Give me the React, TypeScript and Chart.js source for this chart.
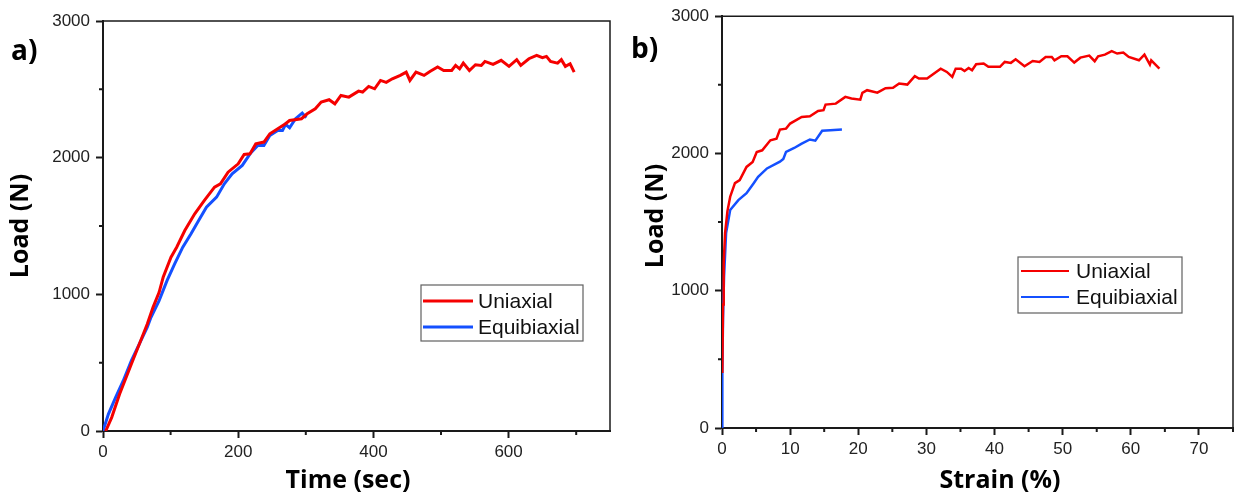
import React, { useEffect, useRef } from "react";
import { Chart, registerables } from "chart.js";

Chart.register(...registerables);

// ---- Panel a) Load vs Time ----
const uniTime = [4, 12.9, 24.6, 42, 53.8, 65.5, 74, 83, 89, 100.6, 109, 121, 135.7, 150, 165, 173.7, 185, 200, 208.8, 217.5, 226, 238, 246.8, 258.5, 270, 276, 293.6, 302, 314, 322.8, 334.5, 343, 352, 363.7, 378, 384, 393, 401.8, 410.5, 419, 428, 439.8, 448.5, 454, 463, 474.9, 483.6, 495, 504, 515.8, 521.6, 527.5, 533, 542, 551, 559.6, 565, 577, 589, 600.6, 612, 618, 630, 641.5, 650, 656, 662, 672.5, 678, 684, 691, 697];
const uniLoadA = [0, 100, 271, 490, 637, 783, 905, 1015, 1125, 1272, 1345, 1467, 1589, 1687, 1784, 1809, 1894, 1955, 2023, 2028, 2101, 2114, 2175, 2211, 2248, 2272, 2285, 2321, 2358, 2407, 2424, 2394, 2455, 2443, 2487, 2480, 2521, 2504, 2565, 2551, 2577, 2602, 2626, 2565, 2626, 2602, 2631, 2663, 2638, 2638, 2675, 2650, 2692, 2638, 2680, 2675, 2704, 2682, 2712, 2668, 2717, 2675, 2724, 2748, 2731, 2741, 2704, 2692, 2717, 2668, 2687, 2626];
const equiTime = [0, 8, 18.7, 30, 42, 53.8, 65.5, 71, 83, 94.7, 106, 118, 130, 141.5, 153, 168, 179.5, 191, 206, 217.5, 229, 238, 246.8, 258.5, 265.5, 270, 276, 284.8, 294.7, 300.6];
const equiLoadA = [0, 124, 246, 368, 515, 637, 759, 832, 954, 1100, 1223, 1345, 1442, 1540, 1638, 1711, 1809, 1882, 1943, 2028, 2089, 2089, 2163, 2199, 2199, 2243, 2219, 2285, 2326, 2292];

// ---- Panel b) Load vs Strain ----
const uniStrain = [0.05, 0.15, 0.25, 0.45, 0.8, 1.2, 1.9, 2.6, 3.6, 4.5, 5.1, 5.9, 7.1, 8.0, 8.5, 9.4, 10.0, 11.7, 12.9, 14.1, 14.9, 15.2, 16.7, 18.1, 19.0, 20.3, 20.6, 21.3, 22.8, 24.0, 25.1, 26.0, 27.2, 28.3, 28.9, 30.1, 32.1, 33.0, 33.8, 34.3, 35.1, 35.6, 36.2, 36.7, 37.3, 38.4, 39.1, 40.8, 41.5, 42.4, 43.1, 44.4, 45.6, 46.6, 47.5, 48.4, 48.8, 49.8, 50.7, 51.7, 52.6, 53.9, 54.7, 55.2, 56.2, 57.2, 58.0, 58.9, 59.7, 61.2, 62.0, 62.8, 63.0, 64.2];
const uniLoadB = [400, 900, 1200, 1420, 1580, 1685, 1784, 1806, 1902, 1938, 2011, 2023, 2096, 2108, 2174, 2181, 2218, 2266, 2271, 2310, 2315, 2356, 2363, 2412, 2400, 2392, 2441, 2461, 2443, 2475, 2478, 2509, 2502, 2563, 2546, 2546, 2618, 2594, 2558, 2618, 2618, 2601, 2623, 2606, 2650, 2655, 2631, 2631, 2667, 2660, 2686, 2635, 2674, 2667, 2703, 2703, 2679, 2708, 2708, 2662, 2698, 2713, 2672, 2708, 2720, 2745, 2728, 2735, 2703, 2679, 2720, 2647, 2679, 2618];
const equiStrain = [0, 0.05, 0.15, 0.3, 0.6, 1.2, 2.4, 3.6, 4.6, 5.3, 6.6, 8.5, 9.0, 9.4, 10.6, 11.7, 12.9, 13.7, 14.7, 15.9, 17.6];
const equiLoadB = [0, 400, 800, 1100, 1420, 1588, 1660, 1711, 1780, 1830, 1891, 1940, 1960, 2012, 2040, 2072, 2102, 2093, 2165, 2170, 2175];

// ---- Ticks ----
const loadTicks = [0, 1000, 2000, 3000];
const loadMinor = [500, 1500, 2500];
const timeTicks = [0, 200, 400, 600];
const timeMinor = [100, 300, 500, 700];
const strainTicks = [0, 10, 20, 30, 40, 50, 60, 70];
const strainMinor = [5, 15, 25, 35, 45, 55, 65, 75];

const seriesNames = ["Uniaxial", "Equibiaxial"];
const RED = "#f50000";
const BLUE = "#1450ff";
const AXIS = "#1a1a1a";
const TICK_FONT = "'Liberation Sans', Arial, sans-serif";
const BOLD_FONT = "'Open Sans', 'DejaVu Sans', sans-serif";

function zip(xs: number[], ys: number[]) {
  return xs.map((x, i) => ({ x, y: ys[i] }));
}

type PanelCfg = {
  letter: string;
  xTitle: string;
  xTitlePos: [number, number];
  yTitlePos: [number, number];
  letterPos: [number, number];
  xMinor: number[];
  yMinor: number[];
  legend: { box: [number, number, number, number]; lineX: [number, number]; rows: number[]; textX: number; lw: number };
};

function makeDecor(cfg: PanelCfg) {
  return {
    id: "decor" + cfg.letter,
    afterDraw(chart: any) {
      const ctx = chart.ctx as CanvasRenderingContext2D;
      const a = chart.chartArea;
      const xs = chart.scales.x;
      const ys = chart.scales.y;
      ctx.save();
      // top & right frame
      ctx.strokeStyle = AXIS;
      ctx.lineWidth = 1.5;
      ctx.beginPath();
      ctx.moveTo(a.left, a.top);
      ctx.lineTo(a.right, a.top);
      ctx.lineTo(a.right, a.bottom);
      ctx.stroke();
      // minor ticks
      ctx.lineWidth = 2;
      ctx.beginPath();
      cfg.xMinor.forEach((v) => {
        const p = xs.getPixelForValue(v);
        ctx.moveTo(p, a.bottom);
        ctx.lineTo(p, a.bottom + 4);
      });
      cfg.yMinor.forEach((v) => {
        const p = ys.getPixelForValue(v);
        ctx.moveTo(a.left, p);
        ctx.lineTo(a.left - 4, p);
      });
      ctx.stroke();
      // legend
      const lg = cfg.legend;
      ctx.fillStyle = "#fff";
      ctx.fillRect(lg.box[0], lg.box[1], lg.box[2], lg.box[3]);
      ctx.strokeStyle = "#606060";
      ctx.lineWidth = 1.2;
      ctx.strokeRect(lg.box[0], lg.box[1], lg.box[2], lg.box[3]);
      chart.data.datasets.forEach((ds: any, i: number) => {
        const y = lg.rows[i];
        ctx.strokeStyle = ds.borderColor;
        ctx.lineWidth = lg.lw;
        ctx.beginPath();
        ctx.moveTo(lg.lineX[0], y);
        ctx.lineTo(lg.lineX[1], y);
        ctx.stroke();
        ctx.fillStyle = "#111";
        ctx.font = `21px ${TICK_FONT}`;
        ctx.textAlign = "left";
        ctx.textBaseline = "middle";
        ctx.fillText(ds.label, lg.textX, y + 1);
      });
      // titles
      ctx.fillStyle = "#000";
      ctx.font = `bold 25px ${BOLD_FONT}`;
      ctx.textAlign = "center";
      ctx.textBaseline = "alphabetic";
      ctx.fillText(cfg.xTitle, cfg.xTitlePos[0], cfg.xTitlePos[1]);
      ctx.save();
      ctx.translate(cfg.yTitlePos[0], cfg.yTitlePos[1]);
      ctx.rotate(-Math.PI / 2);
      ctx.textBaseline = "middle";
      ctx.fillText("Load (N)", 0, 0);
      ctx.restore();
      ctx.font = `bold 28px ${BOLD_FONT}`;
      ctx.textAlign = "left";
      ctx.textBaseline = "alphabetic";
      ctx.fillText(cfg.letter + ")", cfg.letterPos[0], cfg.letterPos[1]);
      ctx.restore();
    },
  };
}

function scaleOpts(min: number, max: number, ticks: number[], fit: (s: any) => void) {
  return {
    type: "linear" as const,
    min,
    max,
    afterBuildTicks: (s: any) => {
      s.ticks = ticks.map((v) => ({ value: v }));
    },
    afterFit: fit,
    grid: { display: true, drawOnChartArea: false, drawTicks: true, tickLength: 7, tickWidth: 2, tickColor: AXIS },
    border: { display: true, width: 2, color: AXIS },
    ticks: {
      color: "#222",
      font: { family: TICK_FONT, size: 17 },
      padding: 5,
      maxRotation: 0,
      autoSkip: false,
      callback: (v: any) => String(v),
    },
  };
}

function Panel(props: {
  width: number;
  left: number;
  uni: { x: number; y: number }[];
  equi: { x: number; y: number }[];
  xMax: number;
  xTicks: number[];
  lw: number;
  padding: { top: number; right: number; left: number; bottom: number };
  yWidth: number;
  xHeight: number;
  cfg: PanelCfg;
}) {
  const ref = useRef<HTMLCanvasElement | null>(null);
  useEffect(() => {
    if (!ref.current) return;
    const chart = new Chart(ref.current, {
      type: "line",
      data: {
        datasets: [
          { label: seriesNames[0], data: props.uni, borderColor: RED, backgroundColor: RED, borderWidth: props.lw, pointRadius: 0, tension: 0 },
          { label: seriesNames[1], data: props.equi, borderColor: BLUE, backgroundColor: BLUE, borderWidth: props.lw, pointRadius: 0, tension: 0 },
        ],
      },
      options: {
        responsive: false,
        animation: false,
        parsing: false as any,
        layout: { padding: props.padding },
        plugins: { legend: { display: false }, tooltip: { enabled: false }, title: { display: false } },
        scales: {
          x: { ...scaleOpts(0, props.xMax, props.xTicks, (s: any) => { s.height = props.xHeight; }), ticks: { ...scaleOpts(0, props.xMax, props.xTicks, () => {}).ticks, padding: 4 } },
          y: { ...scaleOpts(0, 3000, loadTicks, (s: any) => { s.width = props.yWidth; }), ticks: { ...scaleOpts(0, 3000, loadTicks, () => {}).ticks, padding: 6 } },
        } as any,
      },
      plugins: [makeDecor(props.cfg)],
    });
    return () => chart.destroy();
  }, []);
  return (
    <canvas
      ref={ref}
      width={props.width}
      height={496}
      style={{ position: "absolute", left: props.left, top: 0, width: props.width, height: 496 }}
    />
  );
}

export default function App() {
  return (
    <div style={{ position: "absolute", left: 0, top: 0, width: 1241, height: 496, background: "#fff", overflow: "hidden" }}>
      <Panel
        width={620}
        left={0}
        uni={zip(uniTime, uniLoadA)}
        equi={zip(equiTime, equiLoadA)}
        xMax={750}
        xTicks={timeTicks}
        lw={3}
        padding={{ top: 21, right: 10, left: 0, bottom: 0 }}
        yWidth={103}
        xHeight={65}
        cfg={{
          letter: "a",
          xTitle: "Time (sec)",
          xTitlePos: [348, 488],
          yTitlePos: [21, 226],
          letterPos: [11, 60],
          xMinor: timeMinor,
          yMinor: loadMinor,
          legend: { box: [421, 285, 162, 56], lineX: [423, 473], rows: [301, 327], textX: 478, lw: 3 },
        }}
      />
      <Panel
        width={621}
        left={620}
        uni={zip(uniStrain, uniLoadB)}
        equi={zip(equiStrain, equiLoadB)}
        xMax={75}
        xTicks={strainTicks}
        lw={2.5}
        padding={{ top: 16, right: 8, left: 0, bottom: 0 }}
        yWidth={102}
        xHeight={68}
        cfg={{
          letter: "b",
          xTitle: "Strain (%)",
          xTitlePos: [380, 488],
          yTitlePos: [36, 216],
          letterPos: [11, 58],
          xMinor: strainMinor,
          yMinor: loadMinor,
          legend: { box: [398, 257, 164, 56], lineX: [401, 449], rows: [271, 297], textX: 456, lw: 2 },
        }}
      />
    </div>
  );
}
